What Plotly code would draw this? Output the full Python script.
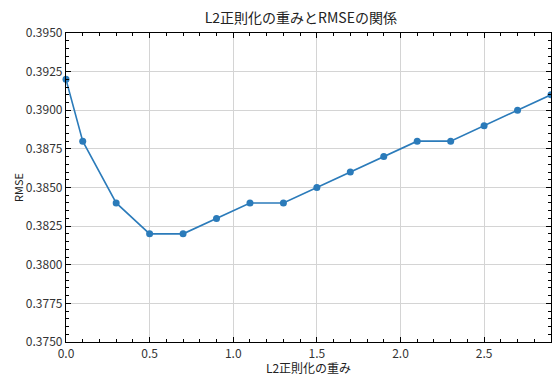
import plotly.graph_objects as go

# L2 regularization weights and the resulting RMSE
l2_weights = [0.0, 0.1, 0.3, 0.5, 0.7, 0.9, 1.1, 1.3, 1.5, 1.7, 1.9, 2.1, 2.3, 2.5, 2.7, 2.9]
rmse = [0.392, 0.388, 0.384, 0.382, 0.382, 0.383, 0.384, 0.384, 0.385, 0.386,
        0.387, 0.388, 0.388, 0.389, 0.390, 0.391]

FONT = "Noto Sans CJK JP"
BLUE = "#2b7bba"

fig = go.Figure()
fig.add_trace(go.Scatter(
    x=l2_weights, y=rmse, mode="lines+markers",
    line=dict(color=BLUE, width=1.6),
    marker=dict(color=BLUE, size=7),
    cliponaxis=False,
))

axis_common = dict(
    showline=True, linecolor="black", linewidth=1.2, mirror="ticks",
    ticks="inside", ticklen=5, tickwidth=1.2, tickcolor="black",
    showgrid=True, gridcolor="#d4d4d4", gridwidth=1,
    zeroline=False,
    tickfont=dict(family=FONT, size=12, color="#333333"),
)

fig.update_xaxes(
    range=[0, 2.9], dtick=0.5, tick0=0, tickformat=".1f",
    minor=dict(dtick=0.1, ticks="inside", ticklen=3, tickcolor="black", showgrid=False),
    title=dict(text="L2正則化の重み", font=dict(family=FONT, size=12, color="#222222"), standoff=6),
    **axis_common,
)
fig.update_yaxes(
    range=[0.375, 0.395], dtick=0.0025, tick0=0.375, tickformat=".4f",
    minor=dict(dtick=0.0005, ticks="inside", ticklen=3, tickcolor="black", showgrid=False),
    title=dict(text="RMSE", font=dict(family=FONT, size=11, color="#222222"), standoff=0),
    **axis_common,
)

fig.update_layout(
    width=552, height=376,
    margin=dict(l=66, r=1, t=33, b=34),
    paper_bgcolor="white", plot_bgcolor="white",
    showlegend=False,
    title=dict(text="L2正則化の重みとRMSEの関係", x=0.545, xanchor="center", y=0.965, yanchor="top",
               font=dict(family=FONT, size=14, color="#222222")),
)

fig.write_html("out.html")
